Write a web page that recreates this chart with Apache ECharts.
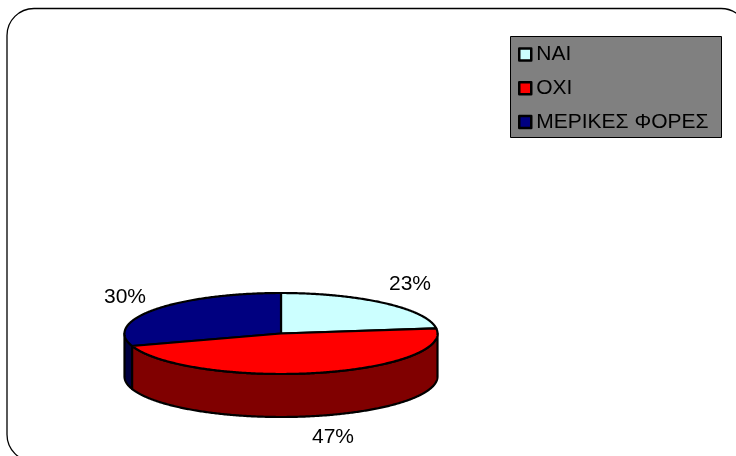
<!DOCTYPE html>
<html><head><meta charset="utf-8">
<style>html,body{margin:0;padding:0;background:#fff}#c{width:736px;height:456px}</style>
<script src="https://cdn.jsdelivr.net/npm/echarts@6/dist/echarts.min.js"></script>
</head><body><div id="c"></div>
<script>
const categories = ['ΝΑΙ', 'ΟΧΙ', 'ΜΕΡΙΚΕΣ ΦΟΡΕΣ'];
const seriesValues = [23, 47, 30];
const topColors = ['#ccffff', '#ff0000', '#000080'];
const wallColors = ['#668080', '#800000', '#000040'];
const labelPos = [[410, 284], [333, 437], [125, 297]];

const CX = 281, CY = 333.5, RX = 156.5, RY = 40.5, DEPTH = 43;
const chart = echarts.init(document.getElementById('c'), null, {renderer: 'canvas'});
const total = seriesValues.reduce((a, b) => a + b, 0);
let acc = 0;
const slices = seriesValues.map((v, i) => {
  const s = acc / total * Math.PI * 2; acc += v;
  return {i, s, e: acc / total * Math.PI * 2};
});
const pt = (a, dy) => [CX + RX * Math.sin(a), CY + dy - RY * Math.cos(a)];
function arcPts(a, b, dy) {
  const n = Math.max(2, Math.ceil((b - a) / 0.01));
  const out = [];
  for (let k = 0; k <= n; k++) out.push(pt(a + (b - a) * k / n, dy));
  return out;
}
const stroke = {stroke: '#000', lineWidth: 2.2, lineJoin: 'round'};
function renderItem(params, api) {
  const i = api.value(0);
  const sl = slices[i];
  const kids = [];
  const a = Math.max(sl.s, Math.PI / 2), b = Math.min(sl.e, Math.PI * 1.5);
  if (b > a) {
    const top = arcPts(a, b, 0), bottom = arcPts(a, b, DEPTH).reverse();
    kids.push({type: 'polygon', shape: {points: top.concat(bottom)},
      style: Object.assign({fill: wallColors[i]}, stroke)});
  }
  kids.push({type: 'polygon', shape: {points: [[CX, CY]].concat(arcPts(sl.s, sl.e, 0))},
    style: Object.assign({fill: topColors[i]}, stroke)});
  return {type: 'group', children: kids};
}
const drawOrder = [0, 2, 1];
const frame = [
  {type: 'rect', silent: true, z: 0,
    shape: {x: 7, y: 8.5, width: 741, height: 453, r: 27},
    style: {fill: '#fff', stroke: '#000', lineWidth: 1.3}},
  {type: 'rect', silent: true, z: 1,
    shape: {x: 510.5, y: 36.5, width: 211, height: 101},
    style: {fill: '#808080', stroke: '#000', lineWidth: 1}}
];
const pctLabels = labelPos.map((p, i) => ({
  type: 'text', silent: true, z: 6, x: p[0], y: p[1],
  style: {text: seriesValues[i] + '%', fontFamily: 'Liberation Sans', fontSize: 21, fill: '#000', align: 'center', verticalAlign: 'middle'}
}));
chart.setOption({
  animation: false,
  backgroundColor: '#fff',
  graphic: frame.concat(pctLabels),
  legend: {
    left: 518, top: 44, padding: 0, orient: 'vertical', itemWidth: 12, itemHeight: 12, itemGap: 12.7, z: 5,
    selectedMode: false, icon: 'rect',
    textStyle: {fontFamily: 'Liberation Sans', fontSize: 21, color: '#000', padding: [0, 0, 0, 0]},
    itemStyle: {borderColor: '#000', borderWidth: 2.5},
    data: categories
  },
  series: [
    {type: 'custom', coordinateSystem: 'none', renderItem, silent: true, z: 3,
     data: drawOrder.map(i => ({name: categories[i], value: [i, seriesValues[i]]}))},
    {type: 'pie', silent: true, z: 2, center: [-500, -500], radius: 1, legendHoverLink: false,
     color: topColors, label: {show: false}, labelLine: {show: false},
     data: categories.map((c, i) => ({name: c, value: seriesValues[i]}))}
  ]
});
</script></body></html>
